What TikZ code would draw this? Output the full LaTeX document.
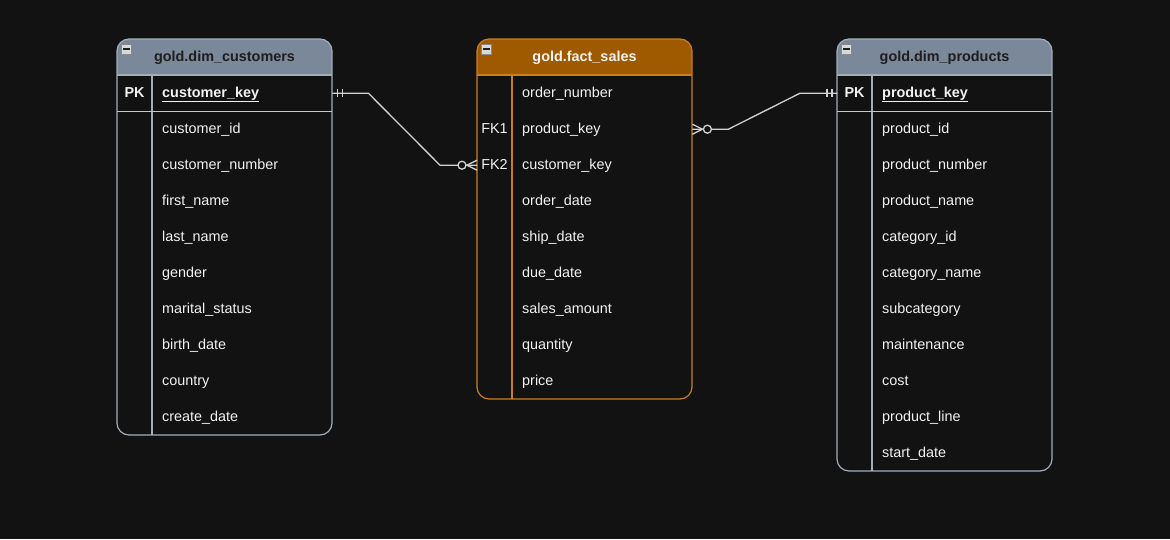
\documentclass[tikz,border=0pt]{standalone}
\usepackage{fontspec}
\setmainfont{Liberation Sans}
\usetikzlibrary{calc}
\definecolor{canvas}{HTML}{121212}
\definecolor{dimhead}{HTML}{7A8899}
\definecolor{dimline}{HTML}{A3AEBA}
\definecolor{facthead}{HTML}{9F5A00}
\definecolor{factline}{HTML}{C8801F}
\definecolor{darktitle}{HTML}{1E1E1E}
\definecolor{fieldtext}{HTML}{F2F2F2}
\definecolor{rowline}{HTML}{C8C8C8}
\definecolor{linkline}{HTML}{D2D2D2}
\definecolor{iconfill}{HTML}{DADADA}
\definecolor{iconedge}{HTML}{8A8A8A}
\newcommand{\entity}[7]{
    % #1: name
    % #2: left x
    % #3: bottom y
    % #4: header colour
    % #5: border colour
    % #6: title colour
    % #7: title
    \begin{scope}
        \clip[rounded corners=12] (#2,39) rectangle (#2+215,#3);
        \fill[canvas] (#2,39) rectangle (#2+215,#3);
        \fill[#4] (#2,39) rectangle (#2+215,75);
    \end{scope}
    \draw[#5, line width=1.2, rounded corners=12] (#2,39) rectangle (#2+215,#3);
    \draw[#5, line width=1.2] (#2,75) -- (#2+215,75);
    \draw[#5, line width=1.2] (#2+35,75) -- (#2+35,#3);
    \node[title, text=#6] (#1) at (#2+107.5,61) {#7};
    \node[icon] (#1-icon) at (#2+9.5,49) {};
    \draw[darktitle, line width=1.2] ($(#1-icon.west)+(2,0)$) -- ($(#1-icon.east)+(-2,0)$);
}

\begin{document}
\begin{tikzpicture}[x=1pt, y=-1pt]
    \tikzstyle{field}=[anchor=base west, inner sep=0, text=fieldtext, font=\fontsize{14.4}{17}\selectfont]
    \tikzstyle{keytag}=[anchor=base, inner sep=0, text=fieldtext, font=\fontsize{14.4}{17}\selectfont\bfseries]
    \tikzstyle{title}=[anchor=base, inner sep=0, font=\fontsize{14.4}{17}\selectfont\bfseries]
    \tikzstyle{keyrow}=[anchor=north west, minimum width=215, minimum height=36, inner sep=0]
    \tikzstyle{icon}=[minimum size=10, inner sep=0, fill=iconfill, draw=iconedge, line width=0.8]
    \tikzstyle{link}=[linkline, line width=1.3]
    \fill[canvas] (0,0) rectangle (1170,539);
    % Customers dimension
    \entity{cust}{117}{435}{dimhead}{dimline}{darktitle}{gold.dim\_customers}
    \node[keyrow] (cust-key) at (117,75) {};
    \draw[rowline, line width=1.2] (cust-key.south west) -- (cust-key.south east);
    \node[keytag] (cust-pk) at ($(cust-key.west)+(17.5,4)$) {PK};
    \node[field, font=\fontsize{14.4}{17}\selectfont\bfseries] (cust-0) at ($(cust-key.west)+(45,4)$) {\underline{customer\_key}};
    \foreach \f [count=\i] in {customer\_id, customer\_number, first\_name, last\_name, gender,
        marital\_status, birth\_date, country, create\_date}
        \node[field] (cust-\i) at (162,{97+36*\i}) {\f};
    % Sales fact
    \entity{sales}{477}{399}{facthead}{factline}{fieldtext}{gold.fact\_sales}
    \node[keyrow] (sales-fk1) at (477,111) {};
    \node[keyrow] (sales-fk2) at (477,147) {};
    \node[keytag, font=\fontsize{14.4}{17}\selectfont] (sales-tag1) at ($(sales-fk1.west)+(17.5,4)$) {FK1};
    \node[keytag, font=\fontsize{14.4}{17}\selectfont] (sales-tag2) at ($(sales-fk2.west)+(17.5,4)$) {FK2};
    \foreach \f [count=\i] in {order\_number, product\_key, customer\_key, order\_date, ship\_date,
        due\_date, sales\_amount, quantity, price}
        \node[field] (sales-\i) at (522,{61+36*\i}) {\f};
    % Products dimension
    \entity{prod}{837}{471}{dimhead}{dimline}{darktitle}{gold.dim\_products}
    \node[keyrow] (prod-key) at (837,75) {};
    \draw[rowline, line width=1.2] (prod-key.south west) -- (prod-key.south east);
    \node[keytag] (prod-pk) at ($(prod-key.west)+(17.5,4)$) {PK};
    \node[field, font=\fontsize{14.4}{17}\selectfont\bfseries] (prod-0) at ($(prod-key.west)+(45,4)$) {\underline{product\_key}};
    \foreach \f [count=\i] in {product\_id, product\_number, product\_name, category\_id, category\_name,
        subcategory, maintenance, cost, product\_line, start\_date}
        \node[field] (prod-\i) at (882,{97+36*\i}) {\f};
    % customer_key relation
    \draw[link] (cust-key.east) -- ++(36,0) -- ($(sales-fk2.west)+(-37,0)$) -- (sales-fk2.west);
    \draw[link] ($(cust-key.east)+(5,-4)$) -- ++(0,8);
    \draw[link] ($(cust-key.east)+(10,-4)$) -- ++(0,8);
    \draw[link, fill=canvas] ($(sales-fk2.west)+(-15,0)$) circle (4);
    \draw[link] ($(sales-fk2.west)+(0,-5)$) -- ($(sales-fk2.west)+(-10,0)$) -- ($(sales-fk2.west)+(0,5)$);
    % product_key relation
    \draw[link] (prod-key.west) -- ++(-37,0) -- ($(sales-fk1.east)+(36,0)$) -- (sales-fk1.east);
    \draw[link] ($(prod-key.west)+(-5,-4)$) -- ++(0,8);
    \draw[link] ($(prod-key.west)+(-10,-4)$) -- ++(0,8);
    \draw[link, fill=canvas] ($(sales-fk1.east)+(15,0)$) circle (4);
    \draw[link] ($(sales-fk1.east)+(0,-5)$) -- ($(sales-fk1.east)+(10,0)$) -- ($(sales-fk1.east)+(0,5)$);
\end{tikzpicture}
\end{document}
